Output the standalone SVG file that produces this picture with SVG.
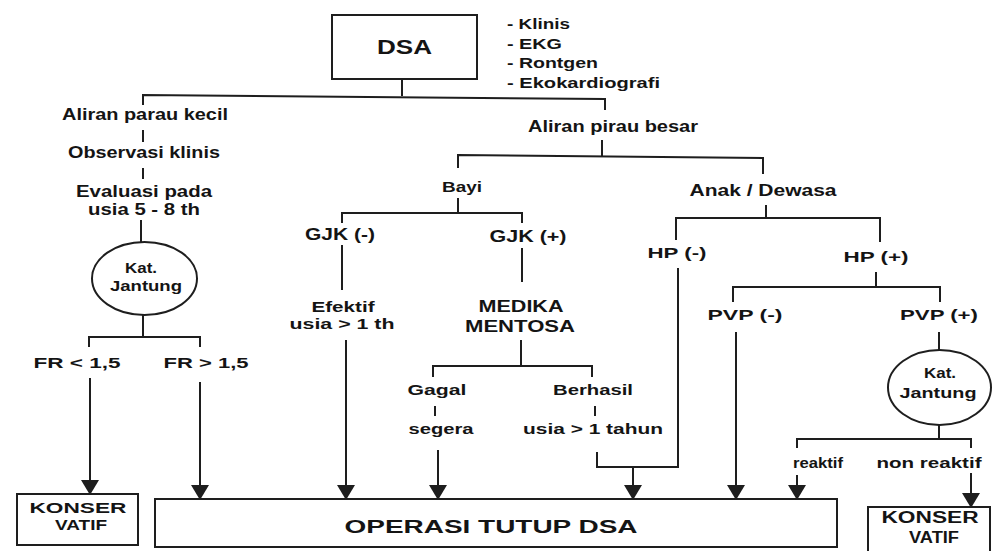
<svg xmlns="http://www.w3.org/2000/svg" width="992" height="551" viewBox="0 0 992 551">
<style>
  .bg{fill:#ffffff}
  .box{fill:#ffffff;stroke:#1e1e1e;stroke-width:2}
  .ell{fill:#ffffff;stroke:#1e1e1e;stroke-width:2}
  .ln{fill:none;stroke:#1e1e1e;stroke-width:2}
  .arr{fill:none;stroke:#1e1e1e;stroke-width:2;marker-end:url(#ah)}
  text{font-family:"Liberation Sans",Arial,Helvetica,sans-serif;font-weight:700;fill:#141414;text-anchor:middle}
  .st{text-anchor:start}
</style>
<defs>
  <marker id="ah" markerUnits="userSpaceOnUse" markerWidth="15" markerHeight="18" viewBox="0 0 15 18" refX="14" refY="9" orient="auto">
    <path d="M0,0 L15,9 L0,18 Z" fill="#1e1e1e"/>
  </marker>
</defs>
<rect class="bg" x="0" y="0" width="992" height="551"/>

<g id="connectors">
  <path class="ln" d="M402,79 V96"/>
  <path class="ln" d="M143,105 V95 L605,99 V110"/>
  <path class="ln" d="M143,130 V142"/>
  <path class="ln" d="M143,168 V179"/>
  <path class="ln" d="M141,220 V242"/>
  <path class="ln" d="M143,315 V337"/>
  <path class="ln" d="M89,347 V337 H200 V347"/>
  <path class="arr" d="M90,378 V494"/>
  <path class="arr" d="M200,382 V499"/>
  <path class="ln" d="M602,140 V156"/>
  <path class="ln" d="M458,168 V155 L763,158 V174"/>
  <path class="ln" d="M458,198 V213"/>
  <path class="ln" d="M342,223 V213 H522 V223"/>
  <path class="ln" d="M342,245 V290"/>
  <path class="arr" d="M346,340 V499"/>
  <path class="ln" d="M522,248 V282"/>
  <path class="ln" d="M521,340 V366"/>
  <path class="ln" d="M433,377 V366 H592 V377"/>
  <path class="ln" d="M435,406 V416"/>
  <path class="ln" d="M595,406 V416"/>
  <path class="arr" d="M438,450 V499"/>
  <path class="ln" d="M678,268 V467 H597 V452"/>
  <path class="arr" d="M633,467 V499"/>
  <path class="ln" d="M766,205 V218"/>
  <path class="ln" d="M676,240 V218 H880 V242"/>
  <path class="ln" d="M876,272 V287"/>
  <path class="ln" d="M733,302 V287 H940 V302"/>
  <path class="arr" d="M736,332 V499"/>
  <path class="ln" d="M939,332 V350"/>
  <path class="ln" d="M939,425 V439"/>
  <path class="ln" d="M797,448 V439 H971 V448"/>
  <path class="arr" d="M797,475 V499"/>
  <path class="arr" d="M971,473 V507"/>
</g>

<g id="dsa">
  <rect class="box" x="332" y="15" width="145" height="64"/>
  <text x="404.5" y="54" font-size="20" textLength="55" lengthAdjust="spacingAndGlyphs">DSA</text>
</g>
<g id="pemeriksaan">
  <text class="st" x="507" y="29" font-size="15" textLength="63" lengthAdjust="spacingAndGlyphs">- Klinis</text>
  <text class="st" x="507" y="49" font-size="15" textLength="55" lengthAdjust="spacingAndGlyphs">- EKG</text>
  <text class="st" x="507" y="68" font-size="15" textLength="91" lengthAdjust="spacingAndGlyphs">- Rontgen</text>
  <text class="st" x="507" y="88" font-size="15" textLength="153" lengthAdjust="spacingAndGlyphs">- Ekokardiografi</text>
</g>
<g id="aliran-kecil">
  <text x="145" y="120" font-size="16" textLength="166" lengthAdjust="spacingAndGlyphs">Aliran parau kecil</text>
</g>
<g id="observasi">
  <text x="144" y="158" font-size="16" textLength="152" lengthAdjust="spacingAndGlyphs">Observasi klinis</text>
</g>
<g id="evaluasi">
  <text x="144" y="197" font-size="16" textLength="136" lengthAdjust="spacingAndGlyphs">Evaluasi pada</text>
  <text x="144" y="215" font-size="16" textLength="112" lengthAdjust="spacingAndGlyphs">usia 5 - 8 th</text>
</g>
<g id="kat-jantung-1">
  <ellipse class="ell" cx="144.5" cy="278.5" rx="52.5" ry="36.5"/>
  <text x="141" y="273" font-size="15" textLength="32" lengthAdjust="spacingAndGlyphs">Kat.</text>
  <text x="146" y="291" font-size="15" textLength="72" lengthAdjust="spacingAndGlyphs">Jantung</text>
</g>
<g id="fr-kecil">
  <text x="77" y="368" font-size="14" textLength="87" lengthAdjust="spacingAndGlyphs">FR &lt; 1,5</text>
</g>
<g id="fr-besar">
  <text x="206" y="368" font-size="14" textLength="85" lengthAdjust="spacingAndGlyphs">FR &gt; 1,5</text>
</g>
<g id="konservatif-1">
  <rect class="box" x="17" y="494" width="121" height="51"/>
  <text x="78" y="513" font-size="15" textLength="97" lengthAdjust="spacingAndGlyphs">KONSER</text>
  <text x="81" y="530" font-size="15" textLength="52" lengthAdjust="spacingAndGlyphs">VATIF</text>
</g>
<g id="aliran-besar">
  <text x="613" y="132" font-size="16" textLength="170" lengthAdjust="spacingAndGlyphs">Aliran pirau besar</text>
</g>
<g id="bayi">
  <text x="462" y="192" font-size="15" textLength="40" lengthAdjust="spacingAndGlyphs">Bayi</text>
</g>
<g id="anak-dewasa">
  <text x="763" y="196" font-size="16" textLength="147" lengthAdjust="spacingAndGlyphs">Anak / Dewasa</text>
</g>
<g id="gjk-neg">
  <text x="340" y="240" font-size="16" textLength="70" lengthAdjust="spacingAndGlyphs">GJK (-)</text>
</g>
<g id="gjk-pos">
  <text x="528" y="242" font-size="16" textLength="77" lengthAdjust="spacingAndGlyphs">GJK (+)</text>
</g>
<g id="efektif">
  <text x="343" y="312" font-size="15" textLength="63" lengthAdjust="spacingAndGlyphs">Efektif</text>
  <text x="342" y="329" font-size="15" textLength="105" lengthAdjust="spacingAndGlyphs">usia  &gt; 1 th</text>
</g>
<g id="medika-mentosa">
  <text x="521" y="312" font-size="16" textLength="85" lengthAdjust="spacingAndGlyphs">MEDIKA</text>
  <text x="520" y="332" font-size="16" textLength="110" lengthAdjust="spacingAndGlyphs">MENTOSA</text>
</g>
<g id="gagal">
  <text x="437" y="395" font-size="15" textLength="59" lengthAdjust="spacingAndGlyphs">Gagal</text>
</g>
<g id="segera">
  <text x="441" y="434" font-size="15" textLength="65" lengthAdjust="spacingAndGlyphs">segera</text>
</g>
<g id="berhasil">
  <text x="593" y="395" font-size="15" textLength="80" lengthAdjust="spacingAndGlyphs">Berhasil</text>
</g>
<g id="usia-1-tahun">
  <text x="593" y="434" font-size="15" textLength="140" lengthAdjust="spacingAndGlyphs">usia &gt; 1 tahun</text>
</g>
<g id="hp-neg">
  <text x="677" y="258" font-size="15" textLength="59" lengthAdjust="spacingAndGlyphs">HP (-)</text>
</g>
<g id="hp-pos">
  <text x="876" y="262" font-size="15" textLength="65" lengthAdjust="spacingAndGlyphs">HP (+)</text>
</g>
<g id="pvp-neg">
  <text x="745" y="320" font-size="15" textLength="75" lengthAdjust="spacingAndGlyphs">PVP (-)</text>
</g>
<g id="pvp-pos">
  <text x="939" y="320" font-size="15" textLength="78" lengthAdjust="spacingAndGlyphs">PVP (+)</text>
</g>
<g id="kat-jantung-2">
  <ellipse class="ell" cx="939.5" cy="387.5" rx="51.5" ry="37.5"/>
  <text x="940" y="378" font-size="15" textLength="32" lengthAdjust="spacingAndGlyphs">Kat.</text>
  <text x="938" y="398" font-size="15" textLength="77" lengthAdjust="spacingAndGlyphs">Jantung</text>
</g>
<g id="reaktif">
  <text x="818" y="468" font-size="15" textLength="50" lengthAdjust="spacingAndGlyphs">reaktif</text>
</g>
<g id="non-reaktif">
  <text x="929" y="468" font-size="15" textLength="105" lengthAdjust="spacingAndGlyphs">non reaktif</text>
</g>
<g id="operasi">
  <rect class="box" x="155" y="499" width="682" height="48"/>
  <text x="491" y="533" font-size="18" textLength="293" lengthAdjust="spacingAndGlyphs">OPERASI TUTUP DSA</text>
</g>
<g id="konservatif-2">
  <rect class="box" x="868" y="507" width="122" height="50"/>
  <text x="930" y="523" font-size="16" textLength="97" lengthAdjust="spacingAndGlyphs">KONSER</text>
  <text x="934" y="543" font-size="16" textLength="50" lengthAdjust="spacingAndGlyphs">VATIF</text>
</g>
</svg>
